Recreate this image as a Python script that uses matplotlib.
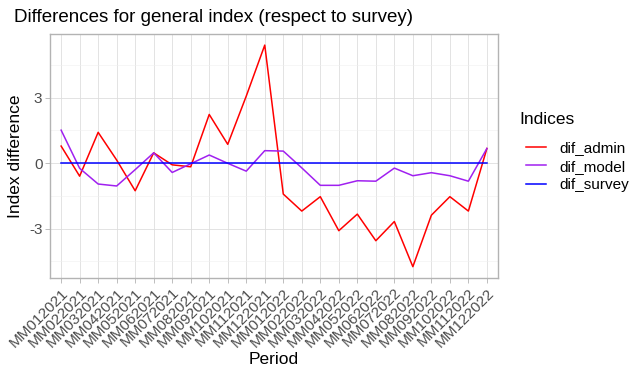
import numpy as np
import matplotlib
matplotlib.use("Agg")
import matplotlib.pyplot as plt
from matplotlib.ticker import FixedLocator

plt.rcParams['font.family'] = ['Liberation Sans', 'DejaVu Sans']

# ---- data ----
periods = ["MM%02d%d" % (m, y) for y in (2021, 2022) for m in range(1, 13)]

dif_admin = [0.78, -0.60, 1.41, 0.14, -1.27, 0.47, -0.08, -0.17, 2.23, 0.86,
             3.07, 5.41, -1.42, -2.20, -1.54, -3.10, -2.34, -3.56, -2.68, -4.75,
             -2.39, -1.54, -2.20, 0.67]
dif_model = [1.51, -0.24, -0.96, -1.05, -0.30, 0.47, -0.43, -0.03, 0.37, -0.01,
             -0.37, 0.57, 0.55, -0.22, -1.02, -1.02, -0.81, -0.83, -0.23, -0.58,
             -0.44, -0.58, -0.83, 0.67]
dif_survey = [0.0] * 24

series = [("dif_admin", dif_admin, "#FF0000"),
          ("dif_model", dif_model, "#A020F0"),
          ("dif_survey", dif_survey, "#0000FF")]

fig = plt.figure(figsize=(6.34, 3.81), dpi=100)
ax = fig.add_axes([0.0789, 0.2703, 0.7066, 0.6405])

x = np.arange(len(periods))
for name, vals, col in series:
    ax.plot(x, vals, color=col, lw=1.1, label=name)

# ---- axes / grid (ggplot theme_light look) ----
ax.set_xlim(-0.6, len(periods) - 0.4)
ax.set_ylim(-5.27, 5.92)
ax.set_xticks(x)
ax.set_xticklabels(periods, rotation=45, ha="right", rotation_mode="anchor",
                   fontsize=11, color="#4d4d4d")
ax.set_yticks([-3, 0, 3])
ax.set_yticklabels(["-3", "0", "3"], fontsize=11, color="#4d4d4d")
ax.yaxis.set_minor_locator(FixedLocator([-4.5, -1.5, 1.5, 4.5]))
ax.tick_params(axis="both", which="major", length=3.5, width=0.6, color="#b3b3b3", pad=2)
ax.tick_params(axis="y", which="minor", length=0)
ax.grid(True, which="major", color="#dedede", lw=0.6)
ax.grid(True, which="minor", axis="y", color="#efefef", lw=0.4)
ax.set_axisbelow(True)
for s in ax.spines.values():
    s.set_color("#b3b3b3")
    s.set_linewidth(1.0)

ax.set_xlabel("Period", fontsize=12.5, labelpad=2)
ax.set_ylabel("Index difference", fontsize=12.5, labelpad=4)
fig.text(0.022, 0.955, "Differences for general index (respect to survey)",
         fontsize=13.5, ha="left", va="center")

# legend: title placed separately to get the ggplot spacing
fig.text(519 / 634, 1 - 119 / 381, "Indices", fontsize=12.5, ha="left", va="center")
ax.legend(loc="upper left", bbox_to_anchor=(514 / 634, 1 - 129 / 381),
          bbox_transform=fig.transFigure, frameon=False, fontsize=11,
          handlelength=1.3, handletextpad=0.9, labelspacing=0.3, borderpad=0.3)

fig.savefig("out.png", dpi=100)
